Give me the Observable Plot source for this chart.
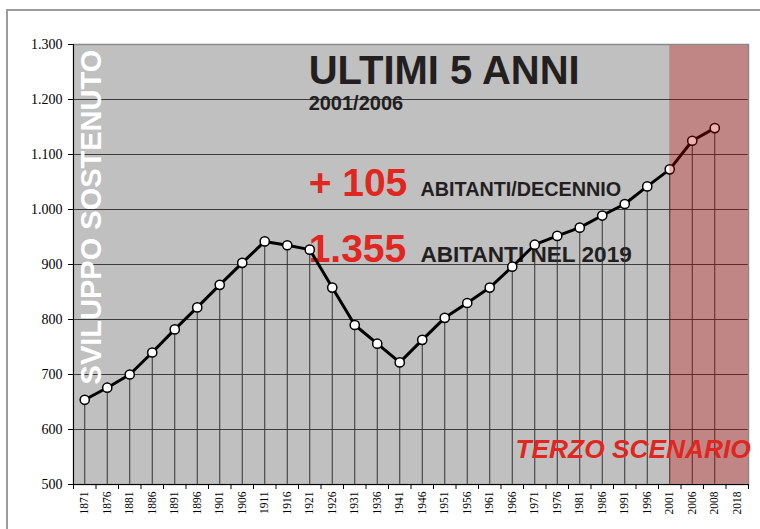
<!DOCTYPE html>
<html>
<head>
<meta charset="utf-8">
<script src="https://cdn.jsdelivr.net/npm/d3@7"></script>
<script src="https://cdn.jsdelivr.net/npm/@observablehq/plot@0.6"></script>
<style>
  html, body { margin: 0; padding: 0; background: #fff; }
  #wrap { position: relative; width: 760px; height: 529px; overflow: hidden; }
  #border { position: absolute; left: 6px; top: 9px; right: -4px; bottom: -4px;
            border-top: 2px solid #9c9c9c; border-left: 2px solid #9c9c9c; pointer-events: none; }
  #wrap svg g[aria-label$="tick label"], #wrap svg g[aria-label$="tick label"] text {
    font-family: "Liberation Serif", "Times New Roman", serif !important;
  }
</style>
</head>
<body>
<div id="wrap"><div id="border"></div></div>
<script>
// Census years (categories on the x axis)
const years = ["1871","1876","1881","1886","1891","1896","1901","1906","1911","1916",
               "1921","1926","1931","1936","1941","1946","1951","1956","1961","1966",
               "1971","1976","1981","1986","1991","1996","2001","2006","2008","2018"];
// Inhabitants (last category has no value)
const population = [654, 676, 700, 740, 782, 822, 863, 903, 942, 935,
                    927, 858, 790, 756, 722, 763, 803, 830, 858, 896,
                    936, 952, 967, 989, 1010, 1042, 1073, 1125, 1148, null];
// Y tick values
const yTicks = [500, 600, 700, 800, 900, 1000, 1100, 1200, 1300];
// Start of the scenario band
const scenarioStart = "2001";

const rows = years.map((year, i) => ({year, i, x: i + 0.5, value: population[i]}))
                  .filter(d => d.value != null);
const n = years.length;
const iStart = years.indexOf(scenarioStart) + 0.5;

const fmt = d3.formatLocale({decimal: ",", thousands: ".", grouping: [3], currency: ["", ""]}).format(",d");

const sans = "'Liberation Sans', Arial, sans-serif";
const serif = "'Liberation Serif', 'Times New Roman', serif";
const red = "#e0261e";
const dark = "#231f20";

const chart = Plot.plot({
  width: 760,
  height: 529,
  marginLeft: 73,
  marginRight: 12,
  marginTop: 44,
  marginBottom: 45,
  x: {type: "linear", domain: [0, n]},
  y: {domain: [500, 1300]},
  style: {background: "transparent", overflow: "visible", fontFamily: serif},
  marks: [
    Plot.frame({fill: "#c0c0c0"}),
    Plot.ruleY(yTicks.filter(v => v > 500 && v < 1300), {stroke: "#3c3c3c", strokeWidth: 1}),
    // annotations under the data line
    Plot.text(["SVILUPPO SOSTENUTO"], {text: d => d, x: 1.2, y: 682, rotate: -90, textAnchor: "start", lineAnchor: "bottom",
      fill: "white", fontFamily: sans, fontWeight: "bold", fontSize: 29}),
    Plot.text(["ULTIMI 5 ANNI"], {text: d => d, x: 10.45, y: 1229, textAnchor: "start", lineAnchor: "bottom",
      fill: dark, fontFamily: sans, fontWeight: "bold", fontSize: 40}),
    Plot.text(["2001/2006"], {text: d => d, x: 10.45, y: 1181, textAnchor: "start", lineAnchor: "bottom",
      fill: dark, fontFamily: sans, fontWeight: "bold", fontSize: 20}),
    Plot.text(["+ 105"], {text: d => d, x: 10.45, y: 1025, textAnchor: "start", lineAnchor: "bottom",
      fill: red, fontFamily: sans, fontWeight: "bold", fontSize: 39}),
    Plot.text(["ABITANTI/DECENNIO"], {text: d => d, x: 15.42, y: 1025, textAnchor: "start", lineAnchor: "bottom",
      fill: dark, fontFamily: sans, fontWeight: "bold", fontSize: 19.8}),
    Plot.text(["1.355"], {text: d => d, x: 10.45, y: 904, textAnchor: "start", lineAnchor: "bottom",
      fill: red, fontFamily: sans, fontWeight: "bold", fontSize: 39}),
    Plot.text(["ABITANTI NEL 2019"], {text: d => d, x: 15.42, y: 904, textAnchor: "start", lineAnchor: "bottom",
      fill: dark, fontFamily: sans, fontWeight: "bold", fontSize: 22.6}),
    // drop lines, line and points
    Plot.ruleX(rows, {x: "x", y1: 500, y2: "value", stroke: "#333", strokeWidth: 1}),
    Plot.line(rows, {x: "x", y: "value", stroke: "black", strokeWidth: 3}),
    Plot.dot(rows, {x: "x", y: "value", r: 4.6, fill: "white", stroke: "black", strokeWidth: 1.5}),
    // scenario band overlay
    Plot.rect([scenarioStart], {x1: iStart, x2: n, y1: 500, y2: 1300, fill: "#c00000", fillOpacity: 0.3}),
    Plot.frame({stroke: "#8a8a8a", strokeWidth: 1.5}),
    Plot.ruleX([0], {stroke: "black", strokeWidth: 1}),
    Plot.ruleY([500], {stroke: "black", strokeWidth: 1}),
    Plot.text(["TERZO SCENARIO"], {text: d => d, x: 30.1, y: 549, textAnchor: "end", lineAnchor: "bottom",
      fill: red, fontFamily: sans, fontWeight: "bold", fontStyle: "italic", fontSize: 26.3}),
    // axes
    Plot.axisY(yTicks, {tickFormat: fmt, tickSize: 5, tickPadding: 6, fontFamily: serif, fontSize: 14,
      fill: "black", stroke: "black", label: null}),
    Plot.axisX(d3.range(0, n + 1), {tickFormat: () => "", tickSize: 5, stroke: "black", label: null}),
    Plot.axisX(rows.map(d => d.x).concat([n - 0.5]), {tickFormat: d => years[Math.round(d - 0.5)], tickRotate: -90,
      tickSize: 0, tickPadding: 7, fontFamily: serif, fontSize: 11.5, fill: "black", label: null})
  ]
});
document.getElementById("wrap").prepend(chart);
</script>
</body>
</html>
